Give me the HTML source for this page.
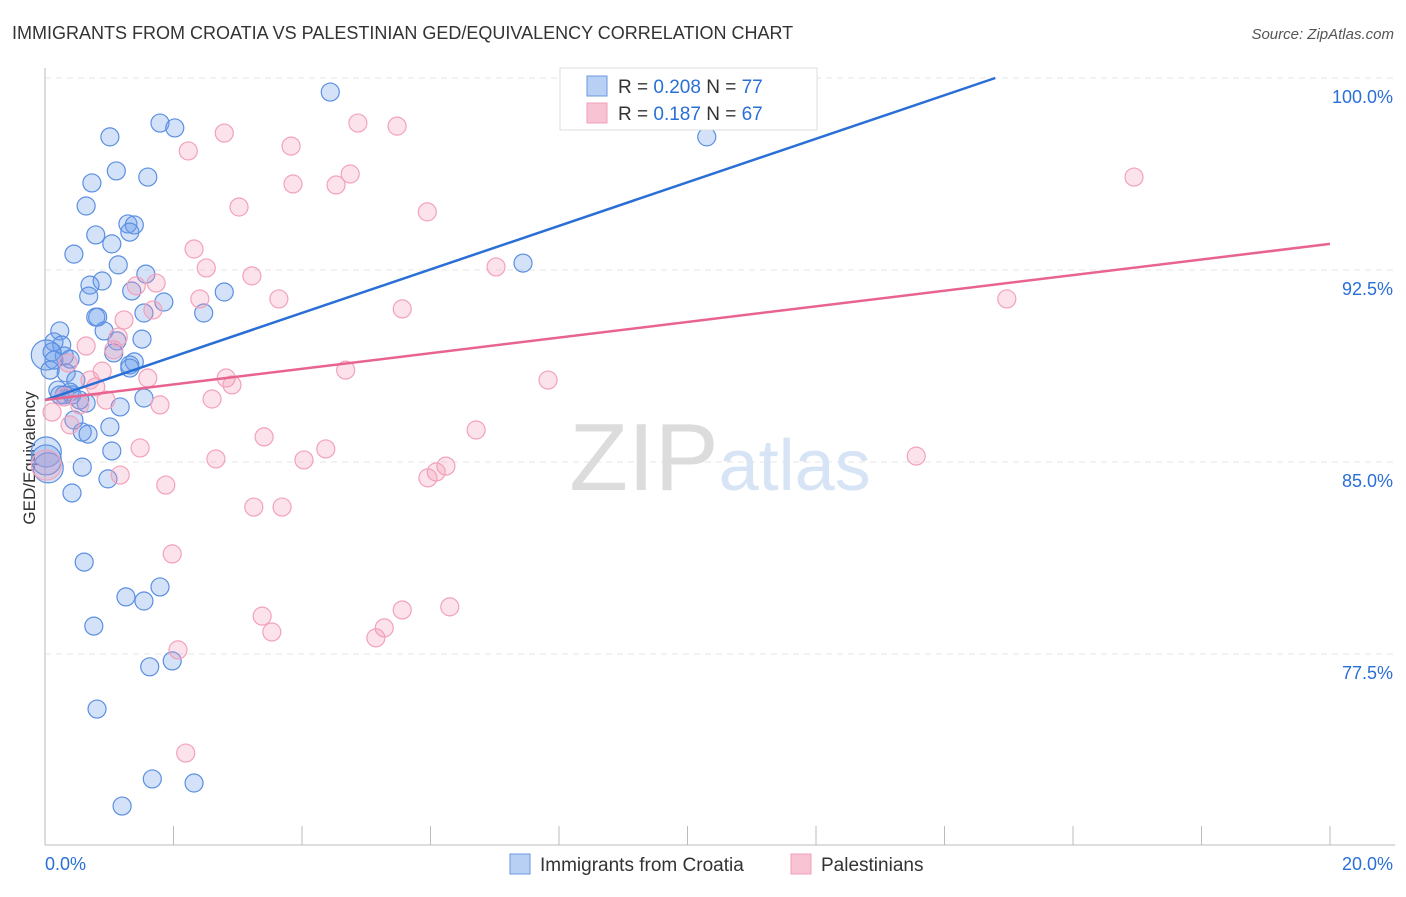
<!DOCTYPE html>
<html><head><meta charset="utf-8"><style>
body{margin:0;background:#fff;font-family:"Liberation Sans",sans-serif}
svg text{font-family:"Liberation Sans",sans-serif}
</style></head><body>
<svg id="chart" width="1406" height="892">
<text x="12" y="39" font-size="18" fill="#333">IMMIGRANTS FROM CROATIA VS PALESTINIAN GED/EQUIVALENCY CORRELATION CHART</text>
<text x="1394" y="39" font-size="15" fill="#555" text-anchor="end" font-style="italic">Source: ZipAtlas.com</text>
<text x="35" y="458" font-size="17" fill="#333" text-anchor="middle" transform="rotate(-90 35 458)">GED/Equivalency</text>
<g id="grid"></g>
<text x="720" y="490" font-size="96" fill="#e4e4e4" text-anchor="middle" font-family="Liberation Serif"><tspan fill="#dcdcdc">ZIP</tspan><tspan fill="#d6e4f5" font-family="Liberation Sans" font-size="72">atlas</tspan></text>
<g id="pts"></g>
<g id="lines"></g>
<g>
<rect x="560" y="68" width="257" height="62" fill="#fff" stroke="#ddd"/>
<rect x="587" y="76" width="20" height="20" fill="#b8d0f4" stroke="#6a9ae0"/>
<rect x="587" y="103" width="20" height="20" fill="#f8c4d4" stroke="#f0a0b8"/>
<text x="618" y="93" font-size="19" fill="#333">R = <tspan fill="#2a6fd6">0.208</tspan>   N = <tspan fill="#2a6fd6">77</tspan></text>
<text x="618" y="120" font-size="19" fill="#333">R =  <tspan fill="#2a6fd6">0.187</tspan>   N = <tspan fill="#2a6fd6">67</tspan></text>
</g>
<g>
<rect x="510" y="854" width="20" height="20" fill="#b8d0f4" stroke="#6a9ae0"/>
<text x="540" y="871" font-size="19" fill="#333">Immigrants from Croatia</text>
<rect x="791" y="854" width="20" height="20" fill="#f8c4d4" stroke="#f0a0b8"/>
<text x="821" y="871" font-size="19" fill="#333">Palestinians</text>
</g>
</svg>
<script>
const yTicks=[100,92.5,85,77.5];
const yTickLabels=["100.0%","92.5%","85.0%","77.5%"];
const xTickLabels=["0.0%","20.0%"];
const blueX=[4.44,1.01,1.79,2.02,10.30,1.11,1.60,0.73,0.64,1.29,1.39,1.32,0.79,1.04,0.45,1.14,1.57,7.44,0.89,0.70,1.35,2.79,1.85,0.68,0.79,0.82,1.54,2.47,0.23,0.92,1.51,1.12,0.14,0.26,0.11,0.30,1.07,0.02,0.14,0.39,1.39,1.32,0.33,0.48,0.20,0.39,0.30,0.42,1.54,0.64,1.17,0.45,0.58,0.67,1.01,1.04,0.02,0.05,0.58,0.98,0.42,0.61,1.26,1.54,1.79,0.76,1.63,1.98,0.81,1.67,2.32,1.20,0.02,0.08,0.23,0.54,1.32];
const blueY=[99.45,97.70,98.24,98.05,97.70,96.37,96.13,95.90,95.0,94.30,94.26,93.98,93.87,93.52,93.12,92.70,92.34,92.77,92.07,91.91,91.68,91.64,91.25,91.48,90.66,90.66,90.82,90.82,90.12,90.12,89.80,89.73,89.69,89.57,89.30,89.14,89.26,89.18,88.98,89.02,88.91,88.79,88.48,88.20,87.81,87.73,87.62,87.62,87.50,87.30,87.15,86.64,86.17,86.09,86.37,85.43,85.39,84.77,84.80,84.34,83.79,81.09,79.73,79.57,80.12,78.59,77.0,77.23,75.35,72.62,72.46,71.56,85.08,88.59,87.62,87.42,88.67];
const pinkX=[11.80,4.87,5.48,2.79,2.23,3.83,3.86,4.53,4.75,16.95,3.02,5.95,2.32,2.51,3.22,7.02,1.73,2.41,3.64,1.42,1.68,5.56,14.97,1.23,0.64,1.07,0.36,0.89,4.68,1.60,7.83,2.82,2.91,0.79,0.95,2.60,1.79,0.54,0.30,6.71,3.41,1.48,4.37,2.66,4.03,6.24,6.09,5.96,13.56,1.17,1.88,3.25,3.69,0.11,1.98,3.38,5.56,6.30,3.53,5.28,5.15,2.07,2.19,0.02,0.39,0.70,1.14];
const pinkY=[99.92,98.24,98.12,97.85,97.15,97.34,95.86,95.82,96.25,96.13,94.96,94.77,93.32,92.58,92.27,92.62,91.99,91.37,91.37,91.88,90.94,90.98,91.37,90.55,89.53,89.38,88.87,88.55,88.59,88.28,88.20,88.28,88.01,87.93,87.42,87.46,87.23,87.23,87.54,86.25,85.98,85.55,85.51,85.12,85.08,84.84,84.61,84.38,85.23,84.49,84.10,83.24,83.24,86.95,81.41,78.98,79.22,79.34,78.36,78.52,78.13,77.66,73.63,84.88,86.45,88.20,89.88];
const blueTrend=[[0,87.42],[14.79,100]];
const pinkTrend=[[0,87.42],[20,93.52]];
const X=v=>45+v*64.25, Y=v=>78+(100-v)*25.6;
const NS="http://www.w3.org/2000/svg";
function mk(t,a,p){const e=document.createElementNS(NS,t);for(const k in a)e.setAttribute(k,a[k]);p.appendChild(e);return e;}
const grid=document.getElementById('grid');
yTicks.forEach((v,i)=>{
 const l=mk('line',{x1:45,x2:1395,y1:Y(v),y2:Y(v),stroke:'#e6e6e6','stroke-dasharray':'6,5'},grid);
 
 
 const t=mk('text',{x:1393,y:Y(v)+25,'font-size':18,fill:'#2a6fd6','text-anchor':'end'},grid);t.textContent=yTickLabels[i];
 
 
});
mk('line',{x1:45,x2:45,y1:68,y2:845,stroke:'#bbb'},grid);
mk('line',{x1:45,x2:1395,y1:845,y2:845,stroke:'#bbb'},grid);
for(let i=0;i<=10;i++){const tk=mk('line',{x1:X(i*2),x2:X(i*2),y1:826,y2:845,stroke:'#bbb'},grid);
 
 }
[[0,'start',45],[20,'end',1393]].forEach((d,i)=>{const t=mk('text',{x:d[2],y:870,'font-size':18,fill:'#2a6fd6','text-anchor':d[1]},grid);t.textContent=xTickLabels[i];
 
 });
const pts=document.getElementById('pts');
function draw(xs,ys,fill,stroke,name){xs.forEach((x,i)=>{const r=x<0.06?15:9;
 const c=mk('circle',{cx:X(x),cy:Y(ys[i]),r:r,fill:fill,stroke:stroke,'stroke-width':1.2},pts);
 
 });}
draw(blueX,blueY,'rgba(110,160,235,0.3)','#5b8fe0','point-croatia');
draw(pinkX,pinkY,'rgba(245,150,180,0.28)','#f2a2bb','point-palestinians');
const lines=document.getElementById('lines');
const bl=mk('line',{x1:X(blueTrend[0][0]),y1:Y(blueTrend[0][1]),x2:X(blueTrend[1][0]),y2:Y(blueTrend[1][1]),stroke:'#2a6fd6','stroke-width':2.5},lines);


const pl=mk('line',{x1:X(pinkTrend[0][0]),y1:Y(pinkTrend[0][1]),x2:X(pinkTrend[1][0]),y2:Y(pinkTrend[1][1]),stroke:'#e8648f','stroke-width':2.5},lines);


</script>
</body></html>
